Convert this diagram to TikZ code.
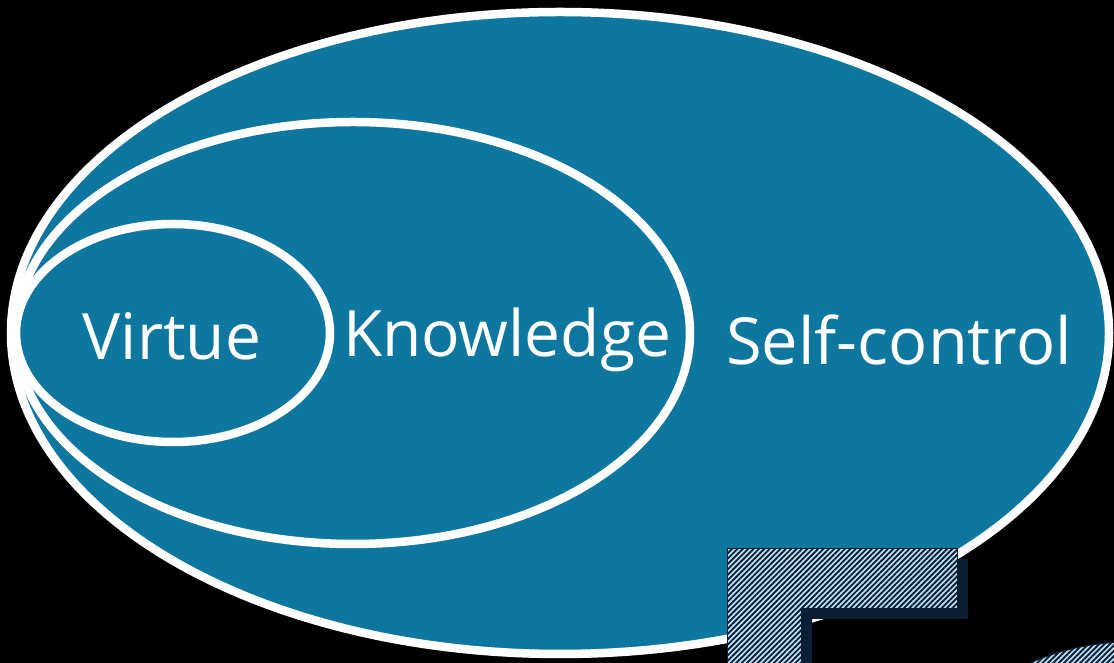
\documentclass[tikz,border=0pt]{standalone}
\usepackage{fontspec}
\setmainfont{Open Sans}
\usetikzlibrary{shapes.geometric,patterns.meta}
\definecolor{sea}{HTML}{0E77A0}
\definecolor{navy}{HTML}{0B1F33}
\definecolor{pale}{HTML}{C2E2F7}

\begin{document}
\begin{tikzpicture}[x=1pt,y=1pt,
 ring/.style={ellipse,draw=white,fill=sea,line width=8.5pt,inner sep=0pt},
 word/.style={text=white,font=\fontsize{64}{70}\selectfont},
 hatch/.style={fill=pale,draw=navy,line width=1pt},
 stripes/.style={pattern={Lines[angle=45,distance=3.8pt,line width=1.9pt]},pattern color=navy}]
 \useasboundingbox (0,0) rectangle (1114,663);
 \clip (0,0) rectangle (1114,663);
 \fill[black] (0,0) rectangle (1114,663);

 % three nested ellipses
 \node[ring,minimum width=1098pt,minimum height=642pt] (selfctl) at (560,330) {};
 \node[ring,minimum width=674pt,minimum height=422pt] (know) at (353,330) {};
 \node[ring,minimum width=314pt,minimum height=218pt] (virt) at (173,330) {};

 % labels
 \node[word] (virtue) at (172,327) {Virtue};
 \node[word] (knowl) at (507,323) {Knowledge};
 \node[word,font=\fontsize{65}{70}\selectfont] (selfc) at (899,323) {Self-control};

 % hatched shapes in the corner, with shadow
 \fill[navy] (738,104) -- (968,104) -- (968,44) -- (812,44) -- (812,-20) -- (738,-20) -- cycle;
 \fill[navy] (1141,-225) circle (248pt);
 \path[hatch] (727,114) -- (957,114) -- (957,54) -- (801,54) -- (801,-20) -- (727,-20) -- cycle;
 \path[stripes] (727,114) -- (957,114) -- (957,54) -- (801,54) -- (801,-20) -- (727,-20) -- cycle;
 \path[hatch] (1130,-227) circle (248pt);
 \path[stripes] (1130,-227) circle (248pt);
\end{tikzpicture}
\end{document}
